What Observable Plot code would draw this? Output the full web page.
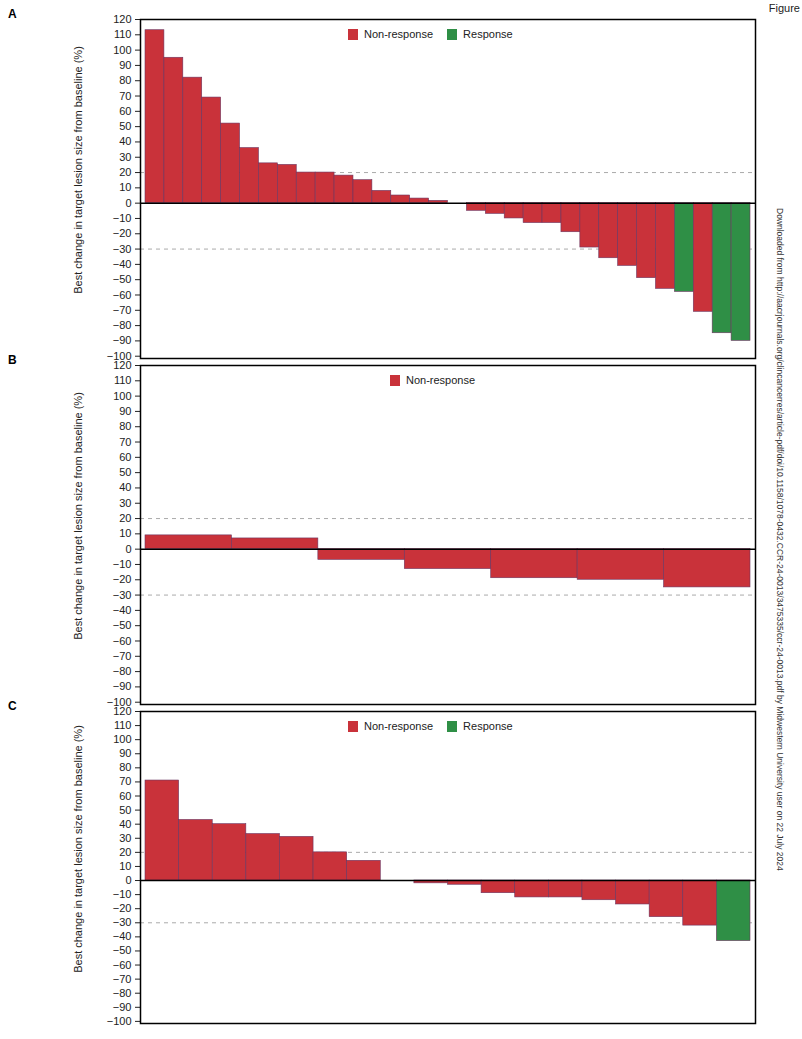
<!DOCTYPE html>
<html><head><meta charset="utf-8">
<script src="https://cdn.jsdelivr.net/npm/d3@7"></script>
<script src="https://cdn.jsdelivr.net/npm/@observablehq/plot@0.6"></script>
<style>
body{margin:0;background:#fff;font-family:"Liberation Sans",Arial,sans-serif;}
#wrap{position:relative;width:802px;height:1039px;overflow:hidden;}
.panel{position:absolute;left:0;overflow:visible;}
.lab{position:absolute;left:8px;font-weight:bold;font-size:12px;}
.leg{position:absolute;font-size:11px;display:flex;gap:14px;color:#222;}
.leg span{display:inline-flex;align-items:center;gap:6px;}
.sw{display:inline-block;width:10px;height:11px;}
.ylab{position:absolute;font-size:11px;color:#222;transform:rotate(-90deg);transform-origin:center;white-space:nowrap;}
</style></head><body><div id="wrap"></div>
<script>
const valuesA = [113,95,82,69,52,36,26,25,20,20,18,15,8,5,3,1.5,0,-5,-7,-10,-13,-13,-19,-29,-36,-41,-49,-56,-58,-71,-85,-90];
const respA   = ["N","N","N","N","N","N","N","N","N","N","N","N","N","N","N","N","N","N","N","N","N","N","N","N","N","N","N","N","R","N","R","R"];
const valuesB = [9,7,-7,-13,-19,-20,-25];
const respB   = ["N","N","N","N","N","N","N"];
const valuesC = [71,43,40,33,31,20,14,0,-2,-3,-9,-12,-12,-14,-17,-26,-32,-43];
const respC   = ["N","N","N","N","N","N","N","N","N","N","N","N","N","N","N","N","N","R"];
const yTicks = d3.range(-100,121,10);
const thresholds = [20,-30];
const RED="#c9323a", GREEN="#2f8f46";

const wrap=document.getElementById("wrap");
const panels=[
 {lab:"A",vals:valuesA,resp:respA,top:10,h:348,legend:true},
 {lab:"B",vals:valuesB,resp:respB,top:356,h:348,legend:false},
 {lab:"C",vals:valuesC,resp:respC,top:702,h:321,legend:true}
];
for(const p of panels){
  const data=p.vals.map((v,i)=>({i:String(i),v,r:p.resp[i]}));
  const chart=Plot.plot({
    width:802,height:p.h,marginLeft:140,marginRight:47,marginTop:9,marginBottom:0,
    style:{fontFamily:"Liberation Sans, Arial, sans-serif",fontSize:"11px",color:"#222",overflow:"visible"},
    x:{domain:data.map(d=>d.i),padding:0,axis:null,inset:5,round:false},
    y:{domain:[-101.5,120],ticks:yTicks,tickFormat:d=>d<0?"\u2212"+(-d):d,label:null,tickSize:5},
    marks:[
      Plot.ruleY(thresholds,{stroke:"#aaa",strokeDasharray:"4,4",strokeWidth:1}),
      Plot.barY(data,{x:"i",y:"v",fill:d=>d.r==="R"?GREEN:RED,stroke:"#6b3560",strokeWidth:0.6}),
      Plot.ruleY([0],{stroke:"#000",strokeWidth:1.5}),
      Plot.frame({stroke:"#000",strokeWidth:1.5})
    ]
  });
  chart.classList.add("panel");chart.style.top=p.top+"px";
  wrap.appendChild(chart);
  const l=document.createElement("div");l.className="lab";l.textContent=p.lab;l.style.top=(p.top-3)+"px";wrap.appendChild(l);
  const lg=document.createElement("div");lg.className="leg";
  lg.innerHTML=p.legend?`<span><i class="sw" style="background:${RED}"></i>Non-response</span><span><i class="sw" style="background:${GREEN}"></i>Response</span>`
    :`<span><i class="sw" style="background:${RED}"></i>Non-response</span>`;
  lg.style.top=(p.top+18)+"px";lg.style.left=p.legend?"348px":"390px";
  wrap.appendChild(lg);
  const yl=document.createElement("div");yl.className="ylab";yl.textContent="Best change in target lesion size from baseline (%)";
  yl.style.left="-62px";yl.style.top=(p.top+p.h/2-20)+"px";yl.style.width="280px";yl.style.textAlign="center";
  wrap.appendChild(yl);
}
const fig=document.createElement("div");fig.textContent="Figure";fig.style.cssText="position:absolute;right:2px;top:2px;font-size:11px;color:#222";wrap.appendChild(fig);
const wm=document.createElement("div");wm.textContent="Downloaded from http://aacrjournals.org/clincancerres/article-pdf/doi/10.1158/1078-0432.CCR-24-0013/3475335/ccr-24-0013.pdf by Midwestern University user on 22 July 2024";
wm.style.cssText="position:absolute;left:785px;top:208px;font-size:8.5px;color:#333;transform:rotate(90deg);transform-origin:0 0;white-space:nowrap;width:600px";
wrap.appendChild(wm);
</script></body></html>
